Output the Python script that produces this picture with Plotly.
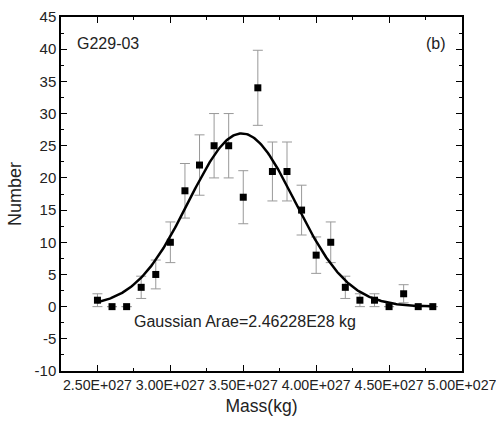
import numpy as np
import plotly.graph_objects as go

# Data
mass = [2.5e27, 2.6e27, 2.7e27, 2.8e27, 2.9e27, 3.0e27, 3.1e27, 3.2e27,
        3.3e27, 3.4e27, 3.5e27, 3.6e27, 3.7e27, 3.8e27, 3.9e27, 4.0e27,
        4.1e27, 4.2e27, 4.3e27, 4.4e27, 4.5e27, 4.6e27, 4.7e27, 4.8e27]
number = [1, 0, 0, 3, 5, 10, 18, 22, 25, 25, 17, 34, 21, 21, 15, 8,
          10, 3, 1, 1, 0, 2, 0, 0]
err = [1, None, None, 1.73, 2.24, 3.16, 4.24, 4.69, 5, 5, 4.12, 5.83,
       4.58, 4.58, 3.87, 2.83, 3.16, 1.73, 1, 1, None, 1.41, None, None]

# Gaussian fit parameters
fit_xc = 3.49e27
fit_sigma = 0.365e27
fit_area = 2.46228e28
fit_y0 = 0.0

x_tickvals = [2.5e27, 3.0e27, 3.5e27, 4.0e27, 4.5e27, 5.0e27]
x_ticktext = ["2.50E+027", "3.00E+027", "3.50E+027", "4.00E+027", "4.50E+027", "5.00E+027"]
y_tickvals = [-10, -5, 0, 5, 10, 15, 20, 25, 30, 35, 40, 45]
y_ticktext = ["-10", "-5", "0", "5", "10", "15", "20", "25", "30", "35", "40", "45"]

xf = np.linspace(mass[0], mass[-1], 300)
yf = fit_y0 + fit_area / (fit_sigma * np.sqrt(2 * np.pi)) * np.exp(-(xf - fit_xc) ** 2 / (2 * fit_sigma ** 2))

FONT = "Liberation Sans, Arial, sans-serif"
TXT = "#222222"

fig = go.Figure()
fig.add_trace(go.Scatter(
    x=mass, y=number, mode="markers",
    marker=dict(symbol="square", size=7, color="black"),
    error_y=dict(type="data", array=err, visible=True, color="#999999",
                 thickness=1, width=5),
    showlegend=False, cliponaxis=False,
))
fig.add_trace(go.Scatter(
    x=xf, y=yf, mode="lines", line=dict(color="black", width=2.5),
    showlegend=False,
))

axis_common = dict(
    showgrid=False, zeroline=False, showline=True, linecolor="black",
    linewidth=1.5, mirror="ticks", ticks="inside", ticklen=6,
    tickwidth=1.2, tickcolor="black", automargin=False,
    ticklabeloverflow="allow",
)

fig.update_xaxes(
    **axis_common,
    tickfont=dict(family=FONT, size=14.2, color=TXT),
    range=[2.25e27, 5.0002e27], tickmode="array", tickvals=x_tickvals,
    ticktext=x_ticktext, tickangle=0,
    minor=dict(ticks="inside", ticklen=3, tickwidth=1, tickcolor="black",
               tickmode="linear", tick0=2.25e27, dtick=0.25e27),
    title=dict(text="Mass(kg)", font=dict(family=FONT, size=17.5, color=TXT), standoff=8),
)
fig.update_yaxes(
    **axis_common,
    tickfont=dict(family=FONT, size=15, color=TXT),
    range=[-10, 45.001], tickmode="array", tickvals=y_tickvals, ticktext=y_ticktext,
    minor=dict(ticks="inside", ticklen=3, tickwidth=1, tickcolor="black",
               tickmode="linear", tick0=-10, dtick=2.5),
    title=dict(text="Number", font=dict(family=FONT, size=18, color=TXT), standoff=8),
)

fig.add_annotation(x=0.035, y=0.925, xref="paper", yref="paper", text="G229-03",
                   showarrow=False, xanchor="left", yanchor="middle",
                   font=dict(family=FONT, size=16, color=TXT))
fig.add_annotation(x=0.965, y=0.925, xref="paper", yref="paper", text="(b)",
                   showarrow=False, xanchor="right", yanchor="middle",
                   font=dict(family=FONT, size=16, color=TXT))
fig.add_annotation(x=2.74e27, y=-2.3, xref="x", yref="y",
                   text="Gaussian Arae=2.46228E28 kg",
                   showarrow=False, xanchor="left", yanchor="middle",
                   font=dict(family=FONT, size=16, color=TXT))

fig.update_layout(
    width=496, height=424,
    margin=dict(l=61, r=34, t=17, b=53),
    paper_bgcolor="white", plot_bgcolor="white",
)

fig.write_html(
    "out.html",
    config={"displayModeBar": False},
    post_script="document.body.style.margin='0';document.body.style.padding='0';document.body.style.overflow='hidden';",
)
